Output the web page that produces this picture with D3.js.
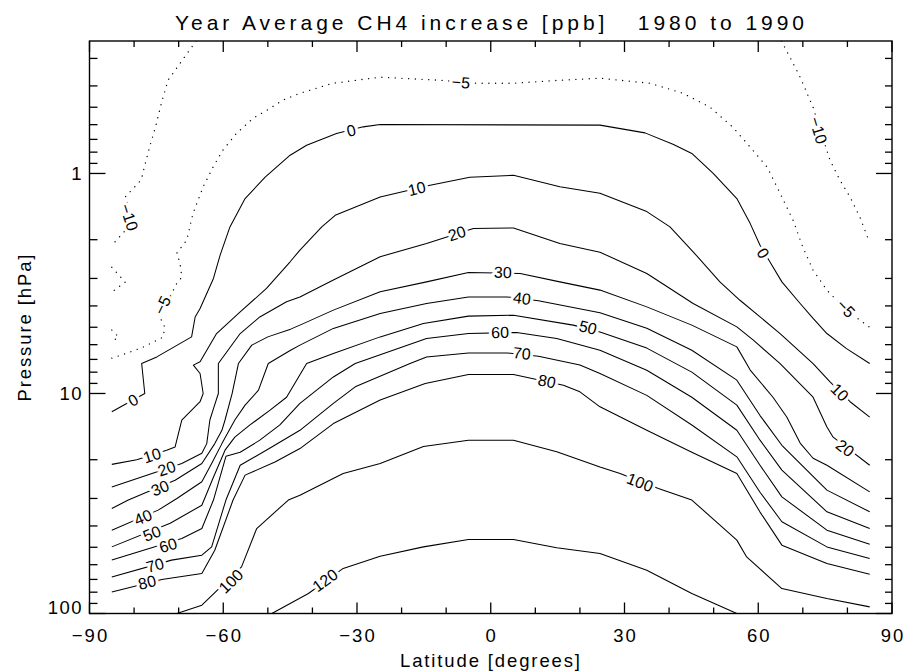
<!DOCTYPE html>
<html><head><meta charset="utf-8">
<script src="https://cdn.jsdelivr.net/npm/d3@7"></script>
<style>body{margin:0;background:#fff}svg{display:block}</style>
</head><body>
<svg id="chart" width="906" height="672"></svg>
<script>
// ---------- data ----------
const titleText = "Year Average CH4 increase [ppb]   1980 to 1990";
const xTitle = "Latitude [degrees]";
const yTitle = "Pressure [hPa]";
const latMajor = [-90,-60,-30,0,30,60,90];
const latMajorLabels = ["\u221290","\u221260","\u221230","0","30","60","90"];
const latMinor = [-80,-70,-50,-40,-20,-10,10,20,40,50,70,80];
const pMajor = [1,10,100];
const pMajorLabels = ["1","10","100"];
const pMinor = [0.3,0.4,0.5,0.6,0.7,0.8,0.9,2,3,4,5,6,7,8,9,20,30,40,50,60,70,80,90];
const latDomain = [-90,90];
const pDomain = [0.25,100];

// contour lines: [latitude, pressure hPa]
const cM10West = [[-66.1,0.25],[-69.5,0.312],[-72.4,0.377],[-74.0,0.49],[-75.1,0.604],[-76.4,0.744],[-77.6,0.917],[-78.4,1.07],[-82.0,1.28],[-80.2,1.66],[-85,2.12]];
const cM10East = [[65.2,0.25],[67.1,0.296],[69.4,0.365],[72.3,0.50],[73.9,0.636],[76.1,0.870],[78.3,1.07],[80.6,1.28],[82.8,1.58],[85,2.07]];
const cM5 = [[-85,6.91],[-81.6,6.56],[-78.0,6.16],[-73.5,5.55],[-73.1,5.0],[-74.2,4.5],[-70.4,3.15],[-69.3,2.96],[-69.7,2.56],[-70.4,2.30],[-68.2,2.01],[-66.8,1.52],[-64.5,1.15],[-62.3,0.936],[-60.1,0.784],[-57.0,0.656],[-53.3,0.561],[-50.2,0.516],[-46.6,0.464],[-42.8,0.432],[-35.4,0.389],[-24.8,0.365],[-11.4,0.377],[-3.1,0.389],[5.0,0.389],[15.5,0.377],[24.5,0.369],[35.7,0.389],[43.1,0.432],[49.2,0.50],[54.3,0.616],[58.2,0.759],[62.0,0.936],[64.9,1.23],[67.8,1.63],[70.0,2.16],[72.3,2.75],[75.4,3.39],[79.7,4.18],[85,5.0]];
const cM5a = [[-85,2.67],[-82.0,3.12],[-85,3.46]];
const cM5b = [[-85,5.15],[-83.5,5.53],[-85,5.83]];
const c0 = [[-85,12.1],[-77.6,10.0],[-78.3,7.31],[-74.9,6.82],[-67.1,5.53],[-66.3,4.49],[-65.2,4.11],[-62.2,3.0],[-60.7,2.35],[-58.5,1.75],[-55.1,1.30],[-50.6,1.04],[-45.0,0.826],[-41.3,0.744],[-34.6,0.658],[-28.6,0.614],[-24.8,0.599],[24.5,0.603],[34.6,0.654],[41.0,0.738],[45.1,0.811],[49.9,1.0],[55.2,1.30],[58.2,1.69],[60.4,2.12],[62.6,2.52],[65.3,3.11],[69.4,3.90],[72.3,4.56],[75.4,5.34],[79.8,6.25],[85,7.31]];
const c10 = [[-85,21.0],[-79.4,20.0],[-72.7,18.1],[-70.8,17.5],[-69.3,13.2],[-65.2,10.9],[-64.5,10.0],[-65.2,8.11],[-66.7,7.43],[-65.2,7.18],[-61.5,5.34],[-56.2,4.26],[-50.3,3.33],[-45.0,2.52],[-42.8,2.23],[-37.9,1.75],[-34.9,1.55],[-24.8,1.28],[-13.6,1.13],[-4.7,1.04],[5.1,1.02],[15.5,1.15],[24.5,1.23],[35.0,1.49],[40.2,1.75],[45.4,2.27],[51.4,3.11],[55.9,3.77],[64.9,5.34],[72.3,7.31],[76.1,8.86],[80.6,10.9],[85,12.8]];
const c20 = [[-85,26.6],[-69.3,20.8],[-64.8,18.7],[-63.7,16.9],[-63.0,13.2],[-62.3,11.9],[-61.1,10.0],[-61.1,7.31],[-56.2,5.34],[-51.8,4.49],[-45.8,3.83],[-42.8,3.64],[-35.3,3.05],[-24.8,2.39],[-14.4,2.08],[-3.9,1.78],[5.1,1.77],[15.5,2.08],[24.5,2.28],[35.0,2.85],[45.4,3.90],[55.2,4.98],[58.9,5.72],[64.9,7.31],[72.3,10.4],[75.4,14.2],[76.8,15.8],[85,21.2]];
const c30 = [[-85,33.3],[-81.3,30.5],[-70.8,24.8],[-64.8,20.8],[-61.9,16.9],[-60.3,14.7],[-59.6,13.2],[-58.0,10.0],[-56.6,7.31],[-53.6,6.03],[-50.0,5.53],[-44.9,5.10],[-42.8,4.89],[-35.3,4.18],[-24.8,3.45],[-14.4,3.11],[-5.0,2.82],[6.6,2.85],[15.5,3.11],[24.5,3.39],[35.0,4.04],[45.1,4.89],[55.2,6.14],[58.2,7.83],[63.3,10.4],[66.4,12.8],[69.4,16.8],[72.3,19.7],[75.4,21.2],[85,28.0]];
const c40 = [[-85,41.8],[-74.6,33.9],[-70.4,30.0],[-64.8,25.2],[-62.6,20.8],[-60.3,16.9],[-57.4,13.2],[-55.1,11.3],[-52.1,9.66],[-49.9,7.31],[-44.9,6.36],[-42.8,6.03],[-35.3,5.06],[-24.8,4.33],[-14.4,3.90],[-5.0,3.64],[3.6,3.64],[10.7,3.79],[24.5,4.30],[35.0,5.05],[45.1,6.36],[55.2,8.70],[60.4,12.6],[65.3,17.2],[75.4,27.5],[85,34.5]];
const c50 = [[-85,49.8],[-71.9,38.9],[-64.8,32.2],[-62.3,24.3],[-59.6,18.1],[-57.4,15.8],[-54.0,13.9],[-49.5,11.9],[-45.8,10.4],[-41.3,7.31],[-35.3,6.58],[-24.8,5.53],[-15.1,4.81],[-5.0,4.45],[5.1,4.41],[18.5,4.89],[24.5,5.25],[35.0,6.22],[45.1,8.00],[55.2,11.3],[60.4,16.3],[65.3,22.3],[75.4,34.5],[85,41.1]];
const c60 = [[-85,57.2],[-69.3,45.6],[-64.8,41.1],[-62.2,30.5],[-59.4,19.3],[-56.2,18.5],[-51.8,16.3],[-47.3,13.9],[-42.8,11.1],[-35.3,8.41],[-30.4,7.31],[-14.4,5.62],[-5.0,5.34],[5.8,5.28],[14.8,5.62],[24.5,6.36],[35.0,7.84],[45.1,10.4],[55.2,14.7],[60.4,21.2],[65.3,29.5],[75.4,41.8],[85,48.4]];
const c70 = [[-85,68.2],[-71.6,57.2],[-64.8,54.3],[-62.6,49.8],[-59.4,30.5],[-56.2,21.2],[-49.5,17.7],[-42.8,14.7],[-35.3,11.1],[-30.4,9.33],[-18.1,7.31],[-14.4,6.82],[-5.0,6.54],[3.6,6.54],[10.7,6.77],[20.0,7.43],[24.5,8.11],[35.0,10.2],[45.1,13.9],[55.2,19.4],[60.4,28.1],[65.3,38.3],[75.4,49.8],[85,56.2]];
const c80 = [[-85,79.8],[-73.8,70.1],[-64.8,65.8],[-61.9,51.6],[-57.8,30.5],[-55.1,23.5],[-48.4,20.5],[-42.8,17.8],[-35.3,13.7],[-24.8,10.7],[-14.7,9.01],[-5.0,8.20],[5.1,8.20],[16.3,9.17],[20.0,9.83],[24.5,11.5],[35.0,14.7],[45.1,18.5],[55.2,23.1],[60.4,34.6],[65.3,48.9],[75.4,59.3],[85,66.3]];
const c100 = [[-70.4,100],[-64.8,91.7],[-55.9,61.4],[-52.5,41.1],[-45.4,30.5],[-42.8,29.0],[-33.1,23.1],[-24.8,20.8],[-15.1,17.4],[-5.0,16.3],[5.1,16.3],[14.8,18.4],[24.5,21.6],[29.0,23.1],[37.6,27.0],[45.1,30.5],[55.2,46.4],[57.4,55.3],[65.3,77.0],[75.4,85.5],[85,93.3]];
const c120 = [[-49.1,100],[-40.9,81.1],[-33.1,62.4],[-24.8,54.9],[-15.1,49.8],[-5.0,46.1],[5.1,46.1],[14.8,50.3],[24.5,53.4],[35.0,63.6],[45.1,81.1],[55.2,100]];

const contours = [
  {level:-10, pts:cM10West},{level:-10, pts:cM10East},
  {level:-5, pts:cM5},{level:-5, pts:cM5a},{level:-5, pts:cM5b},
  {level:0, pts:c0},{level:10, pts:c10},{level:20, pts:c20},{level:30, pts:c30},
  {level:40, pts:c40},{level:50, pts:c50},{level:60, pts:c60},{level:70, pts:c70},
  {level:80, pts:c80},{level:100, pts:c100},{level:120, pts:c120}
];

// contour labels: [level, latitude, pressure]
const contourLabels = [
  [-10,-81.1,1.58],[-10,73.5,0.636],[-5,-6.7,0.385],[-5,-73.7,3.97],[-5,79.7,4.10],
  [0,-80.2,10.7],[0,-31.3,0.636],[0,61.1,2.30],
  [10,-76.0,19.1],[10,-16.6,1.17],[10,78.3,9.86],
  [20,-72.7,21.9],[20,-7.6,1.87],[20,79.5,17.7],
  [30,-74.2,26.9],[30,2.7,2.81],
  [40,-78.0,36.5],[40,7.0,3.69],
  [50,-76.0,43.2],[50,21.8,5.0],
  [60,-72.4,48.9],[60,2.1,5.27],
  [70,-75.3,60.3],[70,7.0,6.56],
  [80,-77.1,72.1],[80,12.6,8.79],
  [100,-58.3,71.3],[100,33.5,25.3],
  [120,-37.2,70.6]
];

// ---------- drawing ----------
const FONT = "'Liberation Sans', Arial, sans-serif";
const svg = d3.select("#chart");
const x = d3.scaleLinear().domain(latDomain).range([89.5, 892]);
const y = d3.scaleLog().domain(pDomain).range([41, 613.5]);
const X0 = x(latDomain[0]), X1 = x(latDomain[1]), Y0 = y(pDomain[0]), Y1 = y(pDomain[1]);

svg.append("rect").attr("width",906).attr("height",672).attr("fill","#fff");

svg.append("defs").append("clipPath").attr("id","clip")
  .append("rect").attr("x",X0).attr("y",Y0).attr("width",X1-X0).attr("height",Y1-Y0);

const line = d3.line().x(d=>x(d[0])).y(d=>y(d[1]));
const gC = svg.append("g").attr("clip-path","url(#clip)");
gC.selectAll("path.c").data(contours).join("path")
  .attr("d", d=>line(d.pts))
  .attr("fill","none").attr("stroke","#000")
  .attr("stroke-width", d=>d.level<0?1.3:1.05)
  .attr("stroke-linecap", d=>d.level<0?"round":"butt")
  .attr("stroke-linejoin","round")
  .attr("stroke-dasharray", d=>d.level<0?"0.1,6.6":null);

function labelAngle(level, px, py){
  let best=Infinity, ang=0;
  contours.filter(c=>c.level===level).forEach(c=>{
    const p=c.pts;
    for(let i=0;i<p.length-1;i++){
      const ax=x(p[i][0]), ay=y(p[i][1]), bx=x(p[i+1][0]), by=y(p[i+1][1]);
      const dx=bx-ax, dy=by-ay, L2=(dx*dx+dy*dy)||1;
      let t=((px-ax)*dx+(py-ay)*dy)/L2; t=Math.max(0,Math.min(1,t));
      const qx=ax+t*dx-px, qy=ay+t*dy-py, dd=qx*qx+qy*qy;
      if(dd<best){best=dd; ang=Math.atan2(dy,dx)*180/Math.PI;}
    }
  });
  if(ang>90) ang-=180;
  if(ang<=-90) ang+=180;
  return ang;
}
const labelText = v => v<0 ? "\u2212"+Math.abs(v) : String(v);
const gL = gC.append("g");
contourLabels.forEach(([lev,la,pr])=>{
  const px=x(la), py=y(pr), a=labelAngle(lev,px,py);
  const g = gL.append("g").attr("transform",`translate(${px},${py}) rotate(${a})`);
  g.append("text").text(labelText(lev)).attr("text-anchor","middle").attr("dy","0.36em")
    .attr("font-family",FONT).attr("font-size",16)
    .attr("fill","#fff").attr("stroke","#fff").attr("stroke-width",6).attr("stroke-linejoin","round");
  g.append("text").text(labelText(lev)).attr("text-anchor","middle").attr("dy","0.36em")
    .attr("font-family",FONT).attr("font-size",16).attr("fill","#000");
});

// frame
svg.append("rect").attr("x",X0).attr("y",Y0).attr("width",X1-X0).attr("height",Y1-Y0)
  .attr("fill","none").attr("stroke","#000").attr("stroke-width",1.4);

// ticks
const gT = svg.append("g").attr("stroke","#000").attr("stroke-width",1.3);
latMajor.forEach(v=>{
  gT.append("line").attr("x1",x(v)).attr("x2",x(v)).attr("y1",Y1).attr("y2",Y1-11);
  gT.append("line").attr("x1",x(v)).attr("x2",x(v)).attr("y1",Y0).attr("y2",Y0+11);
});
latMinor.forEach(v=>{
  gT.append("line").attr("x1",x(v)).attr("x2",x(v)).attr("y1",Y1).attr("y2",Y1-6);
  gT.append("line").attr("x1",x(v)).attr("x2",x(v)).attr("y1",Y0).attr("y2",Y0+6);
});
pMajor.forEach(v=>{
  gT.append("line").attr("y1",y(v)).attr("y2",y(v)).attr("x1",X0).attr("x2",X0+16);
  gT.append("line").attr("y1",y(v)).attr("y2",y(v)).attr("x1",X1).attr("x2",X1-16);
});
pMinor.forEach(v=>{
  gT.append("line").attr("y1",y(v)).attr("y2",y(v)).attr("x1",X0).attr("x2",X0+8);
  gT.append("line").attr("y1",y(v)).attr("y2",y(v)).attr("x1",X1).attr("x2",X1-7);
});

// tick labels
const txt = (sel)=>sel.attr("font-family",FONT).attr("fill","#000");
latMajor.forEach((v,i)=>{
  txt(svg.append("text")).text(latMajorLabels[i]).attr("x",x(v)+1).attr("y",641.5)
    .attr("text-anchor","middle").attr("font-size",18.5).attr("letter-spacing","2px");
});
pMajor.forEach((v,i)=>{
  txt(svg.append("text")).text(pMajorLabels[i]).attr("x",83).attr("y",Math.min(y(v)+7,Y1))
    .attr("text-anchor","end").attr("font-size",18.5).attr("letter-spacing","1.5px");
});

// titles
txt(svg.append("text")).text(titleText).attr("x",489.5).attr("y",30)
  .attr("text-anchor","middle").attr("font-size",21).attr("textLength",629).attr("lengthAdjust","spacing")
  .attr("xml:space","preserve").style("white-space","pre");
txt(svg.append("text")).text(xTitle).attr("x",490).attr("y",666.5)
  .attr("text-anchor","middle").attr("font-size",18.5).attr("textLength",180).attr("lengthAdjust","spacing");
txt(svg.append("text")).text(yTitle).attr("transform","translate(31,328) rotate(-90)")
  .attr("text-anchor","middle").attr("font-size",18.5).attr("textLength",147).attr("lengthAdjust","spacing");
</script>
</body></html>
